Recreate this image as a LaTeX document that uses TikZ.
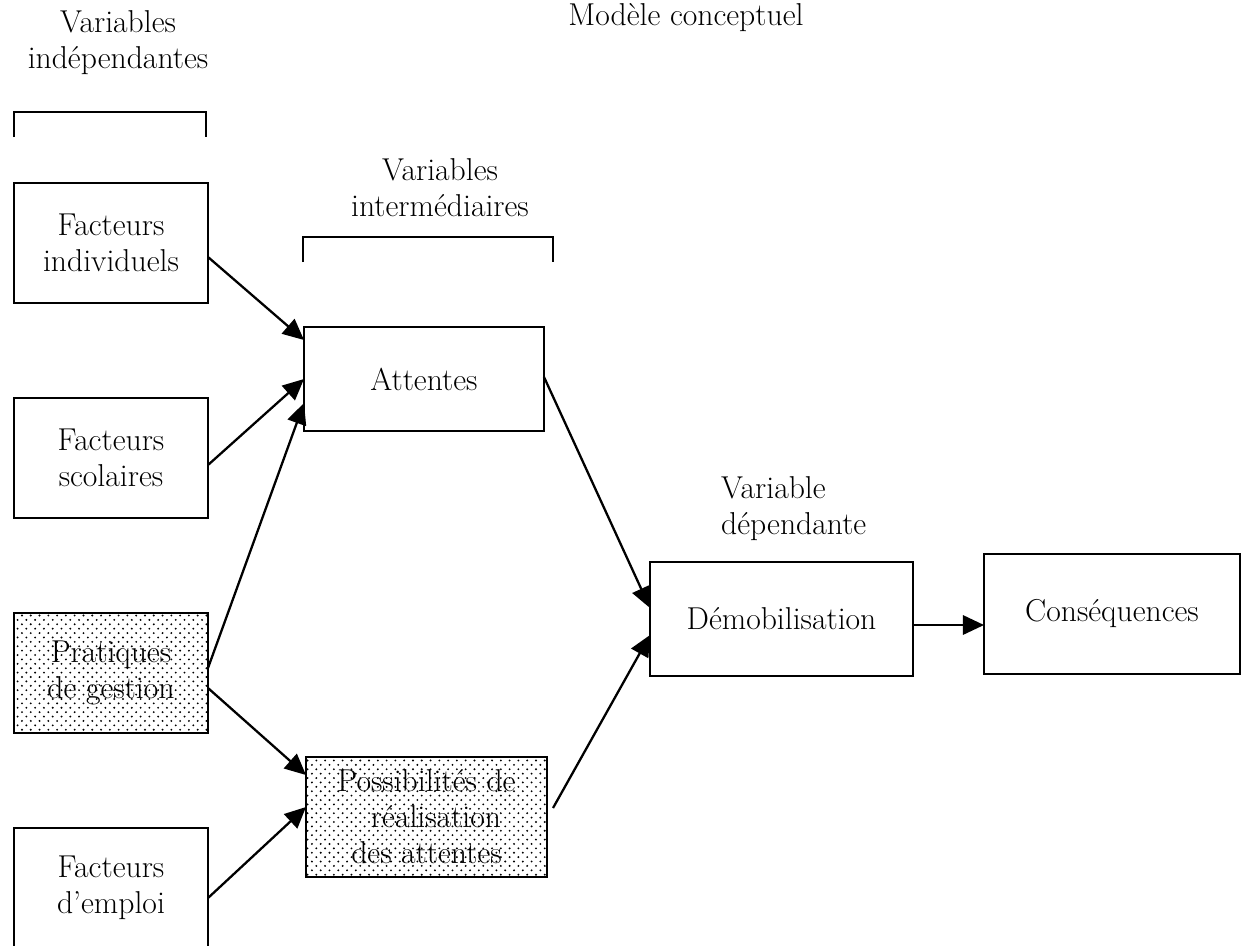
\documentclass[tikz,border=0pt]{standalone}
\usepackage{tikz}
\usetikzlibrary{positioning, arrows.meta, patterns}

\pgfdeclarepatternformonly{screen dots}{\pgfqpoint{-1pt}{-1pt}}{\pgfqpoint{4pt}{4pt}}{\pgfqpoint{5pt}{5pt}}%
{
  \pgfpathcircle{\pgfqpoint{0pt}{0pt}}{0.6pt}
  \pgfpathcircle{\pgfqpoint{2.5pt}{2.5pt}}{0.6pt}
  \pgfusepath{fill}
}

\begin{document}
\begin{tikzpicture}[font=\fontsize{18}{20.5}\selectfont,
    box/.style={rectangle, draw, line width=1.4pt, outer sep=0pt, inner sep=2pt, align=center},
    leftbox/.style={box, minimum width=3.88cm, minimum height=2.4cm},
    dotted box/.style={pattern=screen dots, pattern color=black},
    arrow/.style={line width=1.3pt, -{Triangle[length=12pt, width=11pt]}},
    bracket/.style={line width=1.3pt}]
        \useasboundingbox (0,0) rectangle (24.86,-18.9);

        % titles
        \node[anchor=base] (title) at (13.72,-0.5) {Modèle conceptuel};
        \node (vind) at (2.36,-0.86) [align=center] {Variables\\indépendantes};
        \node (vint) at (8.8,-3.76) [align=center] {Variables\\intermédiaires};
        \node[anchor=west, align=left] (vdep) at (14.3,-10.18) {Variable\\dépendante};

        % brackets
        \coordinate (b1a) at (0.28,-2.74);
        \coordinate (b1b) at (4.12,-2.74);
        \draw[bracket] (b1a) -- ++(0,0.5) -| (b1b);
        \coordinate (b2a) at (6.06,-5.24);
        \coordinate (b2b) at (11.06,-5.24);
        \draw[bracket] (b2a) -- ++(0,0.5) -| (b2b);

        % independent variables
        \node[leftbox, anchor=north west] (indiv) at (0.28,-3.66) {Facteurs\\individuels};
        \node[leftbox, below=1.9cm of indiv] (scol) {Facteurs\\scolaires};
        \node[leftbox, dotted box, below=1.9cm of scol] (prat) {Pratiques\\de gestion};
        \node[leftbox, below=1.9cm of prat] (empl) {Facteurs\\d'emploi};

        % intermediate variables
        \node[box, anchor=north west, minimum width=4.8cm, minimum height=2.08cm] (att) at (6.08,-6.54) {Attentes};
        \node[box, dotted box, anchor=north west, minimum width=4.82cm, minimum height=2.4cm] (poss) at (6.12,-15.14) {Possibilités de\\\hspace{0.6em}réalisation\\des attentes};

        % dependent variable
        \node[box, anchor=north west, minimum width=5.26cm, minimum height=2.28cm] (demob) at (13.0,-11.24) {Démobilisation};
        \node[box, anchor=north west, minimum width=5.12cm, minimum height=2.4cm] (cons) at (19.68,-11.08) {Conséquences};

        \draw[arrow] ([yshift=-0.28cm]indiv.east) -- ([yshift=-0.26cm]att.north west);
        \draw[arrow] ([yshift=-0.14cm]scol.east) -- (att.west);
        \draw[arrow] ([yshift=0.1cm]prat.east) -- ([yshift=-0.48cm]att.west);
        \draw[arrow] ([yshift=-0.3cm]prat.east) -- ([yshift=0.84cm]poss.west);
        \draw[arrow] ([yshift=-0.2cm]empl.east) -- ([yshift=0.2cm]poss.west);

        \draw[arrow] ([yshift=0.04cm]att.east) -- ([yshift=0.22cm]demob.west);
        \draw[arrow] ([xshift=0.12cm, yshift=0.18cm]poss.east) -- ([yshift=-0.32cm]demob.west);
        \draw[arrow] ([yshift=-0.12cm]demob.east) -- ([yshift=-0.22cm]cons.west);
\end{tikzpicture}
\end{document}
